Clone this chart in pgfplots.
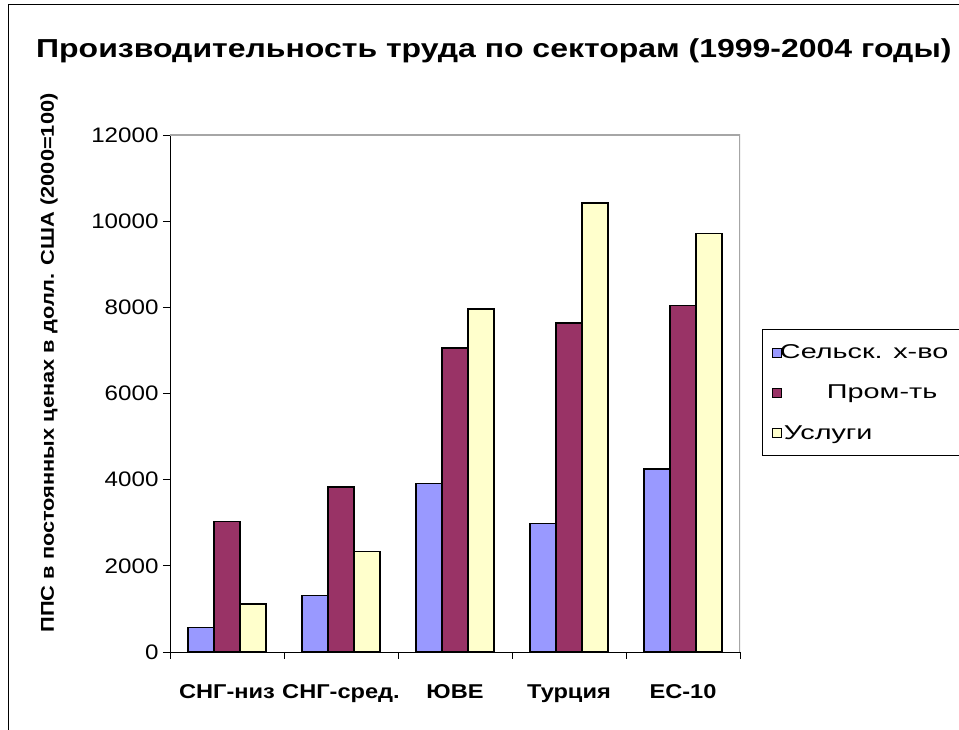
\documentclass[border=0pt]{standalone}
\usepackage{fontspec}
\setmainfont{Liberation Sans}
\newfontfamily\ftitle[FakeStretch=1.23]{Liberation Sans}
\newfontfamily\ftick[FakeStretch=1.15]{Liberation Sans}
\newfontfamily\fxtick[FakeStretch=1.18]{Liberation Sans}
\newfontfamily\fleg[FakeStretch=1.44]{Liberation Sans}
\newfontfamily\fylab[FakeStretch=1.18]{Liberation Sans}
\usepackage{pgfplots}
\pgfplotsset{compat=1.18}
\definecolor{cA}{HTML}{9999FF}
\definecolor{cB}{HTML}{993366}
\definecolor{cC}{HTML}{FFFFCC}
\begin{document}
\begin{tikzpicture}[x=1pt,y=1pt]
\path[use as bounding box, clip] (0,0) rectangle (959,730);
\fill[white] (0,0) rectangle (959,730);
\draw[line width=1.5pt] (8.5,-5) -- (8.5,725.5) -- (970,725.5);
\node[anchor=base west, inner sep=0pt, font=\fontsize{26}{30}\selectfont\ftitle\bfseries] at (36,672.5) {Производительность труда по секторам (1999-2004 годы)};
\node[rotate=90, inner sep=0pt, font=\fontsize{18.5}{22}\selectfont\fylab\bfseries] at (49,367) {ППС в постоянных ценах в долл. США (2000=100)};
\draw[black, line width=0.8pt] (762,401) rectangle (975,275);
\begin{axis}[
  at={(170pt,78pt)}, anchor=south west,
  width=570pt, height=517pt, scale only axis,
  xmin=-0.5, xmax=4.5, ymin=0, ymax=12000,
  axis x line*=bottom, axis y line*=left,
  axis line style={line width=0.9pt, -},
  tick align=outside,
  ytick={0,2000,...,12000},
  scaled y ticks=false,
  major tick length=7pt,
  tick style={line width=0.9pt, black},
  /pgf/number format/assume math mode=true,
  /pgf/number format/1000 sep={},
  yticklabel style={font=\fontsize{21}{25}\selectfont\ftick, xshift=-1pt},
  xtick={0,1,2,3,4},
  xticklabels={СНГ-низ, СНГ-сред., ЮВЕ, Турция, ЕС-10},
  x tick style={draw=none},
  xticklabel style={font=\fontsize{20}{24}\selectfont\fxtick\bfseries, yshift=-22pt},
  extra x ticks={-0.5,0.5,1.5,2.5,3.5,4.5},
  extra x tick labels={},
  extra x tick style={x tick style={draw=black, line width=0.9pt}},
  ybar=0pt, bar width=26pt,
  legend style={at={(axis description cs:1.0561,0.5986)}, anchor=north west, draw=none, fill=none,
    font=\fontsize{20}{24}\selectfont\fleg, inner sep=0pt, row sep=21pt},
  legend cell align=left,
  legend image code/.code={\draw[#1, draw=black, line width=0.8pt] (0pt,-4.5pt) rectangle (9pt,4.5pt);},
]
\addplot[fill=cA, draw=black, line width=1.6pt] coordinates {(0,570) (1,1315) (2,3910) (3,2985) (4,4245)};
\addplot[fill=cB, draw=black, line width=1.6pt] coordinates {(0,3025) (1,3830) (2,7060) (3,7630) (4,8045)};
\addplot[fill=cC, draw=black, line width=1.6pt] coordinates {(0,1120) (1,2330) (2,7955) (3,10415) (4,9718)};
\legend{\hspace{-4pt}Сельск. х-во, \hspace{43pt}Пром-ть, \hspace{0pt}Услуги}
\draw[gray!70, line width=1.2pt] (rel axis cs:0,1) -- (rel axis cs:1,1) -- (rel axis cs:1,0);
\end{axis}
\end{tikzpicture}
\end{document}
